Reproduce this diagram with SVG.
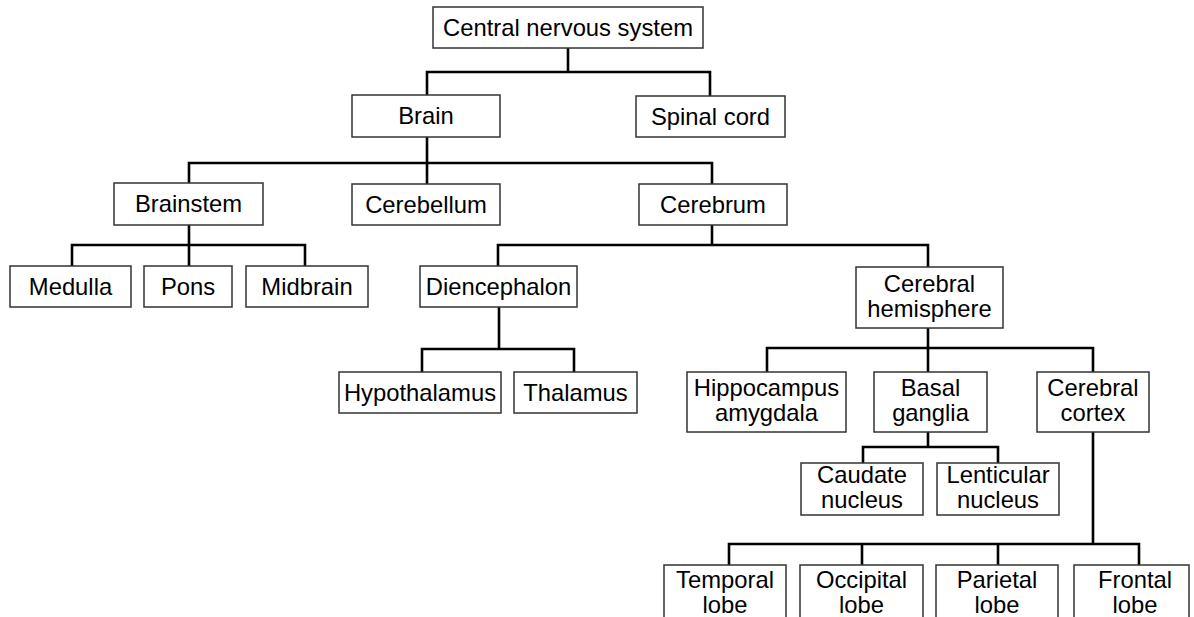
<svg xmlns="http://www.w3.org/2000/svg" width="1194" height="617" viewBox="0 0 1194 617">
<style>
.box{fill:#fff;stroke:#333;stroke-width:1.5}
.lbl{font-family:"Liberation Sans",Arial,sans-serif;font-size:23.8px;fill:#000;text-anchor:middle}
.con{fill:none;stroke:#000;stroke-width:2.6;stroke-linejoin:miter;stroke-linecap:square}
</style>
<rect width="1194" height="617" fill="#fff"/>
<g id="connectors" class="con">
<path d="M568,48V72M427,72H710M427,72V95M710,72V96"/>
<path d="M427,137V163M189,163H712M189,163V183M427,163V184M712,163V184"/>
<path d="M189,225V245M72,245H305M72,245V266M189,245V266M305,245V266"/>
<path d="M712,225V245M498,245H928M498,245V266M928,245V267"/>
<path d="M499,307V349M422,349H574M422,349V372M574,349V372"/>
<path d="M928,328V348M767,348H1093M767,348V372M928,348V372M1093,348V372"/>
<path d="M928,432V447M863,447H998M863,447V463M998,447V463"/>
<path d="M1093,432V544M729,544H1139M729,544V565M862,544V565M998,544V565M1139,544V565"/>
</g>
<g id="cns"><rect class="box" x="433" y="7" width="270" height="41"/><text class="lbl" x="568" y="36">Central nervous system</text></g>
<g id="brain"><rect class="box" x="352" y="95" width="148" height="42"/><text class="lbl" x="426" y="124">Brain</text></g>
<g id="spinal"><rect class="box" x="636" y="96" width="149" height="41"/><text class="lbl" x="710.5" y="124.5">Spinal cord</text></g>
<g id="brainstem"><rect class="box" x="114" y="183" width="149" height="42"/><text class="lbl" x="188.5" y="212">Brainstem</text></g>
<g id="cerebellum"><rect class="box" x="352" y="184" width="148" height="41"/><text class="lbl" x="426" y="212.5">Cerebellum</text></g>
<g id="cerebrum"><rect class="box" x="639" y="184" width="148" height="41"/><text class="lbl" x="713" y="212.5">Cerebrum</text></g>
<g id="medulla"><rect class="box" x="10" y="266" width="121" height="41"/><text class="lbl" x="70.5" y="294.5">Medulla</text></g>
<g id="pons"><rect class="box" x="144" y="266" width="88" height="41"/><text class="lbl" x="188" y="294.5">Pons</text></g>
<g id="midbrain"><rect class="box" x="246" y="266" width="122" height="41"/><text class="lbl" x="307" y="294.5">Midbrain</text></g>
<g id="diencephalon"><rect class="box" x="420" y="266" width="157" height="41"/><text class="lbl" x="498.5" y="294.5">Diencephalon</text></g>
<g id="hemisphere"><rect class="box" x="856" y="267" width="147" height="61"/><text class="lbl" x="929.5" y="292">Cerebral<tspan x="929.5" dy="25">hemisphere</tspan></text></g>
<g id="hypothalamus"><rect class="box" x="339" y="372" width="162" height="41"/><text class="lbl" x="420" y="400.5">Hypothalamus</text></g>
<g id="thalamus"><rect class="box" x="514" y="372" width="123" height="41"/><text class="lbl" x="575.5" y="400.5">Thalamus</text></g>
<g id="hippocampus"><rect class="box" x="687" y="372" width="159" height="60"/><text class="lbl" x="766.5" y="396">Hippocampus<tspan x="766.5" dy="25">amygdala</tspan></text></g>
<g id="basal"><rect class="box" x="874" y="372" width="113" height="60"/><text class="lbl" x="930.5" y="396">Basal<tspan x="930.5" dy="25">ganglia</tspan></text></g>
<g id="cortex"><rect class="box" x="1037" y="372" width="112" height="60"/><text class="lbl" x="1093" y="396">Cerebral<tspan x="1093" dy="25">cortex</tspan></text></g>
<g id="caudate"><rect class="box" x="801" y="463" width="122" height="52"/><text class="lbl" x="862" y="483">Caudate<tspan x="862" dy="25">nucleus</tspan></text></g>
<g id="lenticular"><rect class="box" x="937" y="463" width="122" height="52"/><text class="lbl" x="998" y="483">Lenticular<tspan x="998" dy="25">nucleus</tspan></text></g>
<g id="temporal"><rect class="box" x="664" y="565" width="122" height="70"/><text class="lbl" x="725" y="588">Temporal<tspan x="725" dy="25">lobe</tspan></text></g>
<g id="occipital"><rect class="box" x="800" y="565" width="123" height="70"/><text class="lbl" x="861.5" y="588">Occipital<tspan x="861.5" dy="25">lobe</tspan></text></g>
<g id="parietal"><rect class="box" x="936" y="565" width="122" height="70"/><text class="lbl" x="997" y="588">Parietal<tspan x="997" dy="25">lobe</tspan></text></g>
<g id="frontal"><rect class="box" x="1074" y="565" width="115" height="70"/><text class="lbl" x="1135" y="588">Frontal<tspan x="1135" dy="25">lobe</tspan></text></g>
</svg>
